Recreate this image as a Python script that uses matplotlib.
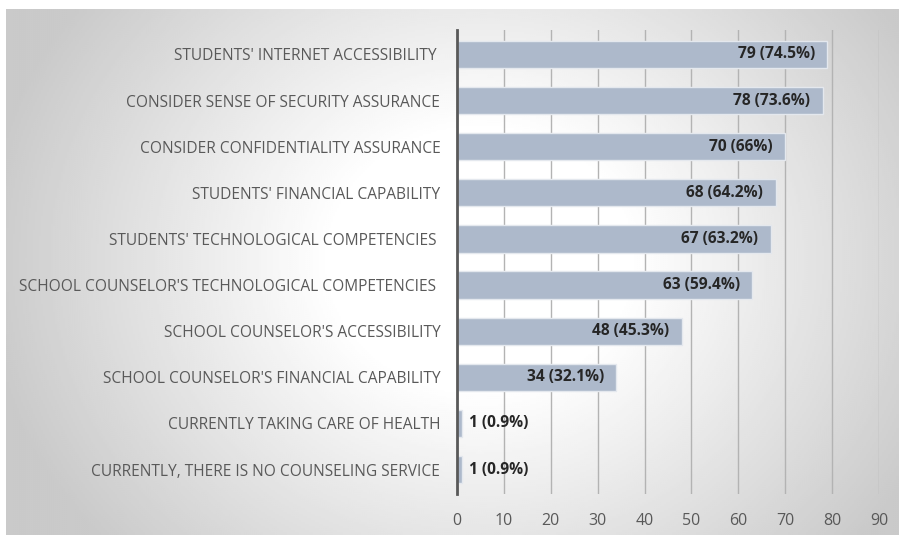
import matplotlib.pyplot as plt
import numpy as np

# categories top to bottom
labels = ["STUDENTS' INTERNET ACCESSIBILITY ",
          "CONSIDER SENSE OF SECURITY ASSURANCE",
          "CONSIDER CONFIDENTIALITY ASSURANCE",
          "STUDENTS' FINANCIAL CAPABILITY",
          "STUDENTS' TECHNOLOGICAL COMPETENCIES ",
          "SCHOOL COUNSELOR'S TECHNOLOGICAL COMPETENCIES ",
          "SCHOOL COUNSELOR'S ACCESSIBILITY",
          "SCHOOL COUNSELOR'S FINANCIAL CAPABILITY",
          "CURRENTLY TAKING CARE OF HEALTH",
          "CURRENTLY, THERE IS NO COUNSELING SERVICE"]
counts = [79, 78, 70, 68, 67, 63, 48, 34, 1, 1]
pcts = ["74.5%", "73.6%", "66%", "64.2%", "63.2%", "59.4%", "45.3%", "32.1%", "0.9%", "0.9%"]

plt.rcParams['font.family'] = ['Open Sans', 'DejaVu Sans']

fig = plt.figure(figsize=(8.99, 5.35), dpi=100)

# radial gradient background of the chart area
bg = fig.add_axes([6 / 899, 0, 1 - 6 / 899, 1 - 9 / 535])
bg.set_axis_off()
yy, xx = np.mgrid[9:535:263j, 6:899:447j]
d = np.sqrt((xx - 480) ** 2 + ((yy - 260) * 1.15) ** 2)
shade = 1.0 - 0.21 * np.clip((d - 150) / 350, 0, 1)
bg.imshow(shade, cmap='gray', vmin=0, vmax=1, aspect='auto', extent=[0, 1, 0, 1])
bg.set_xlim(0, 1)
bg.set_ylim(0, 1)

ax = fig.add_axes([457 / 899, 1 - 494 / 535, (879 - 457) / 899, (494 - 30) / 535])
ax.patch.set_alpha(0)

y = np.arange(len(labels))
ax.barh(y, counts, height=0.59, color='#adb9cb', edgecolor='#e4e8ee', linewidth=1, zorder=3)

for yi, c, p in zip(y, counts, pcts):
    txt = f"{c} ({p})"
    if c < 10:
        ax.text(c + 1.6, yi, txt, ha='left', va='center', fontsize=11.2,
                fontweight='bold', color='#262626', zorder=4)
    else:
        ax.text(c - 2.7, yi, txt, ha='right', va='center', fontsize=11.2,
                fontweight='bold', color='#262626', zorder=4)

ax.set_xlim(0, 90)
ax.set_ylim(9.53, -0.53)
ax.set_xticks(np.arange(0, 91, 10))
ax.set_yticks(y)
ax.set_yticklabels(labels)
ax.tick_params(axis='y', length=0, pad=12, labelsize=11.2, labelcolor='#595959')
ax.tick_params(axis='x', length=0, pad=14, labelsize=11.5, labelcolor='#595959')
ax.grid(axis='x', color='#b3b3b3', linewidth=1, zorder=0)
for s in ['top', 'right', 'bottom']:
    ax.spines[s].set_visible(False)
ax.spines['left'].set_color('#595959')
ax.spines['left'].set_linewidth(2)
ax.spines['left'].set_zorder(5)

fig.savefig('out.png', dpi=100)
